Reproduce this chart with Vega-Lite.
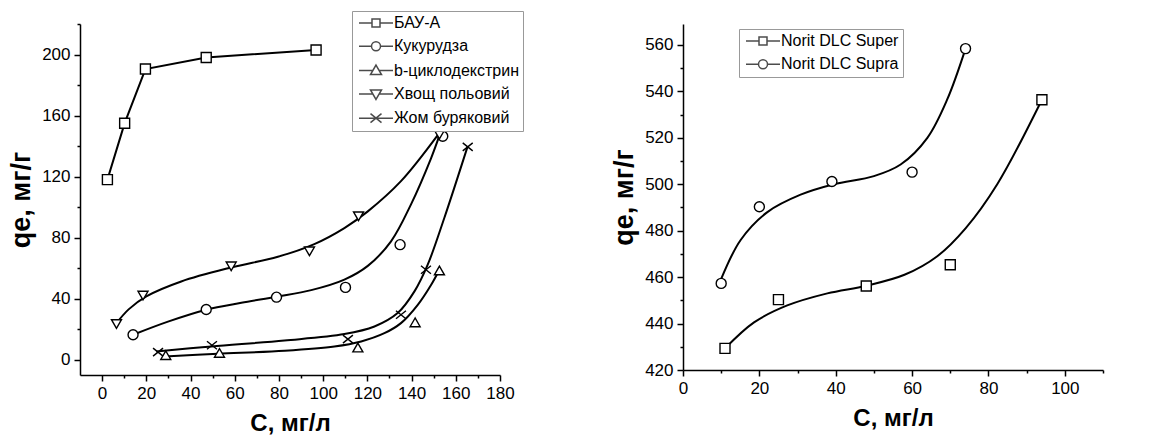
{
  "$schema": "https://vega.github.io/schema/vega-lite/v6.json",
  "background": "white",
  "padding": {"left": 7, "top": 10, "right": 5, "bottom": 5},
  "spacing": 86,
  "config": {
    "view": {"stroke": null},
    "axis": {
      "domainColor": "black", "domainWidth": 1.5, "tickColor": "black", "tickWidth": 1.5,
      "labelColor": "black", "labelFont": "Liberation Sans", "labelFontSize": 17,
      "titleFont": "Liberation Sans", "titleFontSize": 24, "titleFontWeight": "bold", "titleColor": "black",
      "grid": false, "labelPadding": 4
    }
  },
  "datasets": {
    "ptsL": [
      {"s": "БАУ-А", "C": 2.4, "q": 118}, {"s": "БАУ-А", "C": 10.2, "q": 155}, {"s": "БАУ-А", "C": 19.6, "q": 190.5}, {"s": "БАУ-А", "C": 47.1, "q": 198}, {"s": "БАУ-А", "C": 96.8, "q": 203},
      {"s": "Кукурудза", "C": 14, "q": 16.4}, {"s": "Кукурудза", "C": 47.1, "q": 32.9}, {"s": "Кукурудза", "C": 78.9, "q": 41}, {"s": "Кукурудза", "C": 110.1, "q": 47.4}, {"s": "Кукурудза", "C": 134.8, "q": 75.4}, {"s": "Кукурудза", "C": 154.1, "q": 146.4},
      {"s": "b-циклодекстрин", "C": 28.8, "q": 3}, {"s": "b-циклодекстрин", "C": 53.1, "q": 4.5}, {"s": "b-циклодекстрин", "C": 115.7, "q": 8}, {"s": "b-циклодекстрин", "C": 141.6, "q": 24.5}, {"s": "b-циклодекстрин", "C": 152.6, "q": 58.5},
      {"s": "Хвощ польовий", "C": 6.5, "q": 23.4}, {"s": "Хвощ польовий", "C": 18.5, "q": 42}, {"s": "Хвощ польовий", "C": 58.4, "q": 61.2}, {"s": "Хвощ польовий", "C": 93.8, "q": 71}, {"s": "Хвощ польовий", "C": 116, "q": 94}, {"s": "Хвощ польовий", "C": 152.6, "q": 147.5},
      {"s": "Жом буряковий", "C": 25.3, "q": 5}, {"s": "Жом буряковий", "C": 49.7, "q": 9.5}, {"s": "Жом буряковий", "C": 111.2, "q": 13.5}, {"s": "Жом буряковий", "C": 135.2, "q": 29.5}, {"s": "Жом буряковий", "C": 146.5, "q": 59}, {"s": "Жом буряковий", "C": 165.4, "q": 139.5}
    ],
    "fitL": [
      {"s": "Хвощ польовий", "C": 6.5, "q": 24}, {"s": "Хвощ польовий", "C": 12, "q": 33}, {"s": "Хвощ польовий", "C": 20, "q": 41.5}, {"s": "Хвощ польовий", "C": 35.8, "q": 51.3}, {"s": "Хвощ польовий", "C": 58.5, "q": 60.5}, {"s": "Хвощ польовий", "C": 79.5, "q": 67.5}, {"s": "Хвощ польовий", "C": 96, "q": 75.8}, {"s": "Хвощ польовий", "C": 109.6, "q": 86.3}, {"s": "Хвощ польовий", "C": 120.2, "q": 97.2}, {"s": "Хвощ польовий", "C": 135.2, "q": 117}, {"s": "Хвощ польовий", "C": 152, "q": 147.5},
      {"s": "Кукурудза", "C": 14, "q": 16.4}, {"s": "Кукурудза", "C": 29.8, "q": 25}, {"s": "Кукурудза", "C": 47.1, "q": 32.8}, {"s": "Кукурудза", "C": 63, "q": 37.3}, {"s": "Кукурудза", "C": 78.8, "q": 41.3}, {"s": "Кукурудза", "C": 94.6, "q": 45.6}, {"s": "Кукурудза", "C": 109.6, "q": 52.5}, {"s": "Кукурудза", "C": 120.2, "q": 61.5}, {"s": "Кукурудза", "C": 130.7, "q": 77.6}, {"s": "Кукурудза", "C": 139.8, "q": 102}, {"s": "Кукурудза", "C": 148.8, "q": 132}, {"s": "Кукурудза", "C": 152.5, "q": 146.5},
      {"s": "b-циклодекстрин", "C": 28.3, "q": 2.2}, {"s": "b-циклодекстрин", "C": 52.4, "q": 3.9}, {"s": "b-циклодекстрин", "C": 82.5, "q": 5.9}, {"s": "b-циклодекстрин", "C": 105.1, "q": 8.7}, {"s": "b-циклодекстрин", "C": 117.2, "q": 12}, {"s": "b-циклодекстрин", "C": 127.7, "q": 17.4}, {"s": "b-циклодекстрин", "C": 135.2, "q": 24}, {"s": "b-циклодекстрин", "C": 142.8, "q": 36}, {"s": "b-циклодекстрин", "C": 148.8, "q": 49}, {"s": "b-циклодекстрин", "C": 152.6, "q": 59},
      {"s": "Жом буряковий", "C": 24.5, "q": 5.4}, {"s": "Жом буряковий", "C": 49.4, "q": 8.7}, {"s": "Жом буряковий", "C": 82.5, "q": 12.6}, {"s": "Жом буряковий", "C": 109.6, "q": 16.8}, {"s": "Жом буряковий", "C": 123.2, "q": 21.8}, {"s": "Жом буряковий", "C": 133.7, "q": 30.6}, {"s": "Жом буряковий", "C": 141.3, "q": 44.8}, {"s": "Жом буряковий", "C": 147.3, "q": 62.3}, {"s": "Жом буряковий", "C": 154.8, "q": 92.9}, {"s": "Жом буряковий", "C": 165.4, "q": 140}
    ],
    "ptsR": [
      {"s": "Norit DLC Super", "C": 11, "q": 429.3}, {"s": "Norit DLC Super", "C": 25, "q": 450.3}, {"s": "Norit DLC Super", "C": 48, "q": 456.2}, {"s": "Norit DLC Super", "C": 70, "q": 465.3}, {"s": "Norit DLC Super", "C": 94, "q": 536.4},
      {"s": "Norit DLC Supra", "C": 10, "q": 457.3}, {"s": "Norit DLC Supra", "C": 20, "q": 490.3}, {"s": "Norit DLC Supra", "C": 39, "q": 501.2}, {"s": "Norit DLC Supra", "C": 60, "q": 505.2}, {"s": "Norit DLC Supra", "C": 74, "q": 558.4}
    ],
    "fitR": [
      {"s": "Norit DLC Super", "C": 11, "q": 429.3}, {"s": "Norit DLC Super", "C": 18.6, "q": 440.5}, {"s": "Norit DLC Super", "C": 27.3, "q": 447.8}, {"s": "Norit DLC Super", "C": 37.8, "q": 453}, {"s": "Norit DLC Super", "C": 48, "q": 456.3}, {"s": "Norit DLC Super", "C": 58, "q": 461}, {"s": "Norit DLC Super", "C": 66.6, "q": 469}, {"s": "Norit DLC Super", "C": 74, "q": 481}, {"s": "Norit DLC Super", "C": 82.3, "q": 500}, {"s": "Norit DLC Super", "C": 94, "q": 536.4},
      {"s": "Norit DLC Supra", "C": 10, "q": 459.2}, {"s": "Norit DLC Supra", "C": 15.1, "q": 476}, {"s": "Norit DLC Supra", "C": 22.1, "q": 488}, {"s": "Norit DLC Supra", "C": 30.8, "q": 495.5}, {"s": "Norit DLC Supra", "C": 39.5, "q": 500}, {"s": "Norit DLC Supra", "C": 50, "q": 503.5}, {"s": "Norit DLC Supra", "C": 57, "q": 508.5}, {"s": "Norit DLC Supra", "C": 64, "q": 520}, {"s": "Norit DLC Supra", "C": 69.2, "q": 536.5}, {"s": "Norit DLC Supra", "C": 74, "q": 558.4}
    ]
  },
  "hconcat": [
    {
      "width": 420, "height": 351,
      "encoding": {
        "x": {"field": "C", "type": "quantitative", "scale": {"domain": [-10, 180], "nice": false, "zero": false},
          "axis": {"title": "C, мг/л", "values": [0,10,20,30,40,50,60,70,80,90,100,110,120,130,140,150,160,170,180],
            "labelExpr": "datum.value % 20 == 0 ? datum.label : ''", "tickSize": {"condition": {"test": "datum.value % 20 == 0", "value": 6}, "value": 3},
            "titlePadding": 10, "labelFlush": false, "labelOverlap": false}},
        "y": {"field": "q", "type": "quantitative", "scale": {"domain": [-10, 220], "nice": false, "zero": false},
          "axis": {"title": "qe, мг/г", "titleFontSize": 27, "values": [0,20,40,60,80,100,120,140,160,180,200,220],
            "labelExpr": "datum.value % 40 == 0 ? datum.label : ''", "tickSize": {"condition": {"test": "datum.value % 40 == 0", "value": 6}, "value": 3},
            "titlePadding": 6, "labelFlush": false, "labelOverlap": false}}
      },
      "layer": [
        {"data": {"name": "fitL"}, "mark": {"type": "line", "interpolate": "catmull-rom", "color": "black", "strokeWidth": 2}, "encoding": {"detail": {"field": "s"}}},
        {"data": {"name": "ptsL"}, "transform": [{"filter": "datum.s == 'БАУ-А'"}], "mark": {"type": "line", "color": "black", "strokeWidth": 2}, "encoding": {"detail": {"field": "s"}}},
        {"data": {"name": "ptsL"}, "mark": {"type": "point", "filled": true, "fill": "white", "stroke": "black", "strokeWidth": 1.4, "size": 100, "opacity": 1},
          "encoding": {"shape": {"field": "s", "type": "nominal", "legend": null,
            "scale": {"domain": ["БАУ-А", "Кукурудза", "b-циклодекстрин", "Хвощ польовий", "Жом буряковий"],
              "range": ["square", "circle", "triangle-up", "triangle-down", "M-1,-0.8L1,0.8M-1,0.8L1,-0.8"]}}}},
        {"data": {"name": "ptsL"}, "transform": [{"filter": "datum.q > 100000"}],
          "mark": {"type": "point", "filled": true, "fill": "white", "stroke": "black", "strokeWidth": 1.5, "size": 100},
          "encoding": {"shape": {"field": "s", "type": "nominal",
            "scale": {"domain": ["БАУ-А", "Кукурудза", "b-циклодекстрин", "Хвощ польовий", "Жом буряковий"],
              "range": ["M-1,0H1.6M3.2,0H5.8M1.6,-0.8H3.2V0.8H1.6Z",
                        "M-1,0H1.5M3.3,0H5.8M1.5,0A0.9,0.9,0,1,0,3.3,0A0.9,0.9,0,1,0,1.5,0Z",
                        "M-1,0H1.76M3.04,0H5.8M2.4,-1.1L3.5,0.8L1.3,0.8Z",
                        "M-1,0H1.76M3.04,0H5.8M2.4,1.1L3.5,-0.8L1.3,-0.8Z",
                        "M-1,0H5.8M1.3,-0.9L3.5,0.9M1.3,0.9L3.5,-0.9"]},
            "legend": {"orient": "none", "legendX": 272, "legendY": -13, "title": null, "symbolSize": 100, "labelOffset": 22,
              "labelFont": "Liberation Sans", "labelFontSize": 16, "labelColor": "black",
              "strokeColor": "#999999", "fillColor": "white", "padding": 4, "rowPadding": 7.3}}}}
      ],
      "resolve": {"scale": {"shape": "independent"}, "legend": {"shape": "independent"}}
    },
    {
      "width": 420, "height": 346,
      "encoding": {
        "x": {"field": "C", "type": "quantitative", "scale": {"domain": [0, 110], "nice": false, "zero": false},
          "axis": {"title": "C, мг/л", "values": [0,10,20,30,40,50,60,70,80,90,100,110],
            "labelExpr": "datum.value % 20 == 0 ? datum.label : ''", "tickSize": {"condition": {"test": "datum.value % 20 == 0", "value": 6}, "value": 3},
            "titlePadding": 10, "labelFlush": false, "labelOverlap": false}},
        "y": {"field": "q", "type": "quantitative", "scale": {"domain": [420, 569], "nice": false, "zero": false},
          "axis": {"title": "qe, мг/г", "titleFontSize": 27, "values": [420,430,440,450,460,470,480,490,500,510,520,530,540,550,560],
            "labelExpr": "datum.value % 20 == 0 ? datum.label : ''", "tickSize": {"condition": {"test": "datum.value % 20 == 0", "value": 6}, "value": 3},
            "titlePadding": 6, "labelFlush": false, "labelOverlap": false}}
      },
      "layer": [
        {"data": {"name": "fitR"}, "mark": {"type": "line", "interpolate": "catmull-rom", "color": "black", "strokeWidth": 2}, "encoding": {"detail": {"field": "s"}}},
        {"data": {"name": "ptsR"}, "mark": {"type": "point", "filled": true, "fill": "white", "stroke": "black", "strokeWidth": 1.4, "size": 100, "opacity": 1},
          "encoding": {"shape": {"field": "s", "type": "nominal", "legend": null,
            "scale": {"domain": ["Norit DLC Super", "Norit DLC Supra"], "range": ["square", "circle"]}}}},
        {"data": {"name": "ptsR"}, "transform": [{"filter": "datum.q > 100000"}],
          "mark": {"type": "point", "filled": true, "fill": "white", "stroke": "black", "strokeWidth": 1.5, "size": 100},
          "encoding": {"shape": {"field": "s", "type": "nominal",
            "scale": {"domain": ["Norit DLC Super", "Norit DLC Supra"],
              "range": ["M-1,0H1.6M3.2,0H5.8M1.6,-0.8H3.2V0.8H1.6Z",
                        "M-1,0H1.5M3.3,0H5.8M1.5,0A0.9,0.9,0,1,0,3.3,0A0.9,0.9,0,1,0,1.5,0Z"]},
            "legend": {"orient": "none", "legendX": 56, "legendY": 5, "title": null, "symbolSize": 100, "labelOffset": 22,
              "labelFont": "Liberation Sans", "labelFontSize": 16, "labelColor": "black",
              "strokeColor": "#999999", "fillColor": "white", "padding": 4, "rowPadding": 7.3}}}}
      ],
      "resolve": {"scale": {"shape": "independent"}, "legend": {"shape": "independent"}}
    }
  ]
}
